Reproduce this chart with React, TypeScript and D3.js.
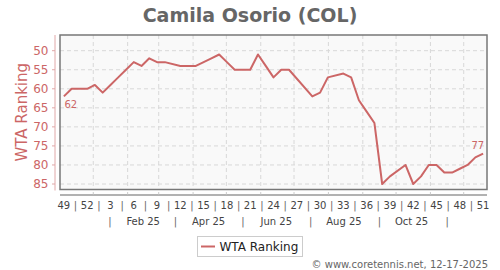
import React from "react";
import * as d3 from "d3";

const title = "Camila Osorio (COL)";
const seriesName = "WTA Ranking";
// week offsets from ISO week 49 of 2024 (missing weeks = rankings frozen)
const weekIndex = [0,1,2,3,4,5,6,7,8,9,10,11,12,13,15,16,17,18,19,20,21,22,23,24,25,26,27,28,29,32,33,34,36,37,38,39,40,41,42,44,45,46,47,48,49,50,51,52,53,54];
const ranking = [62,60,60,60,59,61,59,57,55,53,54,52,53,53,54,54,54,53,52,51,53,55,55,55,51,54,57,55,55,62,61,57,56,57,63,66,69,85,83,80,85,83,80,80,82,82,81,80,78,77];
const yTicks = [50,55,60,65,70,75,80,85];
const weekLabels = ["49","52","3","6","9","12","15","18","21","24","27","30","33","36","39","42","45","48","51"];
const monthLabels = ["Feb 25","Apr 25","Jun 25","Aug 25","Oct 25"];
const monthLabelMonths = [1,3,5,7,9];
const monthSepMonths = [0,2,4,6,8,10];
const footer = "\u00a9 www.coretennis.net, 12-17-2025";

const DAY = 86400000;
const start = Date.UTC(2024, 11, 2);
const weekDate = (i: number) => new Date(start + (i * 7 + 3.5) * DAY);

export default function App() {
  const W = 500, H = 270;
  const left = 60, right = 487, top = 35, bottom = 189.5;
  const x = d3.scaleUtc().domain([new Date(start), new Date(start + 385 * DAY)]).range([left, right]);
  const y = d3.scaleLinear().domain([50, 85]).range([50.7, 184]);
  const color = "rgb(204,102,102)";
  const font = "'DejaVu Sans', sans-serif";
  const data = weekIndex.map((w, k) => ({ d: weekDate(w), v: ranking[k] }));
  const line = d3.line<{ d: Date; v: number }>().x(p => x(p.d)).y(p => y(p.v));
  const months = d3.utcMonth.range(new Date(Date.UTC(2025, 0, 1)), new Date(Date.UTC(2025, 11, 2)));
  const labelX = weekLabels.map((_, i) => x(weekDate(i * 3)));
  const first = data[0], last = data[data.length - 1];
  return (
    <svg width={W} height={H} style={{ position: "absolute", left: 0, top: 0, background: "#fff" }} fontFamily={font}>
      <text x={250} y={22} textAnchor="middle" fontSize={19} fontWeight="bold" fill="#666">{title}</text>
      <rect x={left} y={top} width={right - left} height={bottom - top} fill="#f9f9f9" />
      {yTicks.map(t => (
        <line key={"gy" + t} x1={left} x2={right} y1={y(t)} y2={y(t)} stroke="#d8d8d8" strokeDasharray="4,3" />
      ))}
      {months.map((m, i) => (
        <line key={"gx" + i} x1={x(m)} x2={x(m)} y1={top} y2={bottom} stroke="#d8d8d8" strokeDasharray="4,3" />
      ))}
      <rect x={left} y={top} width={right - left} height={bottom - top} fill="none" stroke="#777" strokeWidth={1.5} />
      <path d={line(data) || ""} fill="none" stroke={color} strokeWidth={2} strokeLinejoin="round" />
      <text x={x(first.d) + 0.5} y={y(first.v) + 12} fontSize={10} fill={color}>{first.v}</text>
      <text x={x(last.d) + 1} y={y(last.v) - 5} fontSize={10} fill={color} textAnchor="end">{last.v}</text>
      {/* Y axis */}
      <line x1={55} x2={55} y1={top} y2={bottom + 1} stroke="#e0a8a8" strokeWidth={1} />
      {yTicks.map(t => (
        <g key={"yt" + t}>
          <line x1={52} x2={55} y1={y(t)} y2={y(t)} stroke="#e0a8a8" />
          <text x={48.5} y={y(t) + 4.2} textAnchor="end" fontSize={12} fill={color}>{t}</text>
        </g>
      ))}
      <text transform={`translate(26.5,${(top + bottom) / 2}) rotate(-90)`} textAnchor="middle" fontSize={15} fill={color}>{seriesName}</text>
      {/* X axis */}
      <line x1={left} x2={right} y1={195} y2={195} stroke="#999" strokeWidth={1.5} />
      {months.map((m, i) => (
        <line key={"xt" + i} x1={x(m)} x2={x(m)} y1={192} y2={194.5} stroke="#ccc" />
      ))}
      {weekLabels.map((l, i) => (
        <text key={"wl" + i} x={labelX[i]} y={208.5} textAnchor="middle" fontSize={10} fill="#444">{l}</text>
      ))}
      {weekLabels.slice(1).map((_, i) => (
        <text key={"ws" + i} x={(labelX[i] + labelX[i + 1]) / 2} y={208.5} textAnchor="middle" fontSize={10} fill="#666">|</text>
      ))}
      {monthLabels.map((l, i) => (
        <text key={"ml" + i} x={x(new Date(Date.UTC(2025, monthLabelMonths[i], 15)))} y={224.5} textAnchor="middle" fontSize={10} fill="#444">{l}</text>
      ))}
      {monthSepMonths.map((m, i) => (
        <text key={"ms" + i} x={x(new Date(Date.UTC(2025, m, 16)))} y={224.5} textAnchor="middle" fontSize={10} fill="#666">|</text>
      ))}
      {/* Legend */}
      <rect x={197.5} y={236.5} width={105} height={20} fill="#fff" stroke="#ccc" />
      <line x1={201} x2={215} y1={246.5} y2={246.5} stroke={color} strokeWidth={2} />
      <text x={219.5} y={251} fontSize={12} fill="#222">{seriesName}</text>
      <text x={488} y={268} textAnchor="end" fontSize={10} fill="#666">{footer}</text>
    </svg>
  );
}
